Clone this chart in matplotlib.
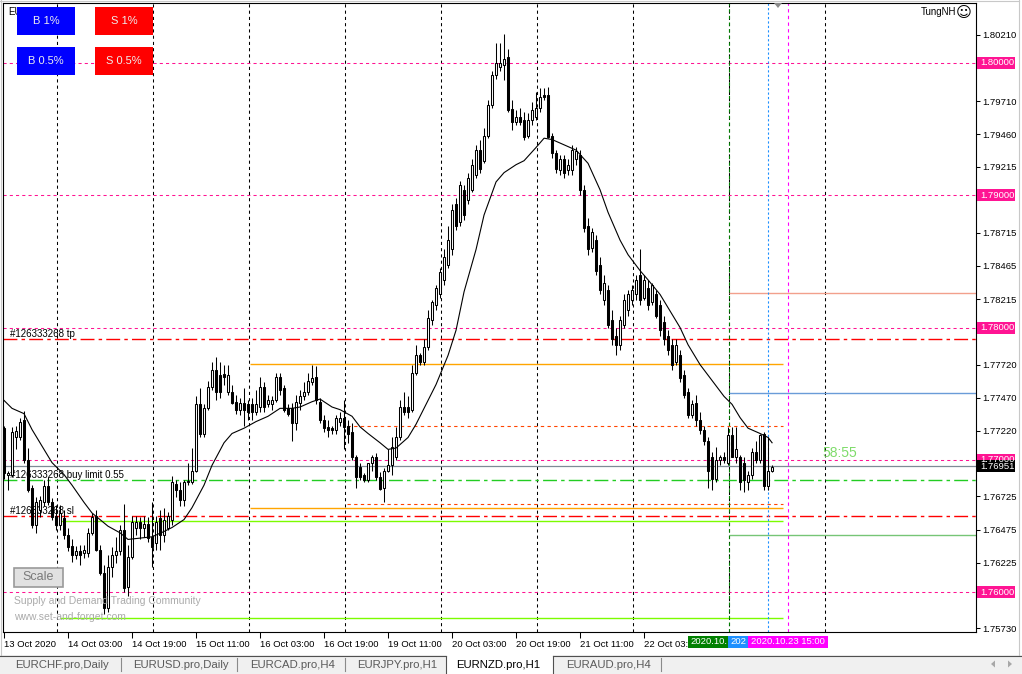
import numpy as np
import matplotlib
matplotlib.use("Agg")
import matplotlib.pyplot as plt
from matplotlib.patches import Rectangle, Polygon
from matplotlib.lines import Line2D

plt.rcParams['font.family'] = ['Liberation Sans', 'DejaVu Sans']

# ---- EURNZD H1 candles (13 Oct 11:00 -> 23 Oct 14:00) ----
opens = [1.7724, 1.7689, 1.7689, 1.7717, 1.7717, 1.7730, 1.7700, 1.7679, 1.7651, 1.7662,
         1.7668, 1.7680, 1.7668, 1.7658, 1.7651, 1.7656, 1.7643, 1.7635, 1.7628, 1.7631,
         1.7630, 1.7630, 1.7645, 1.7658, 1.7632, 1.7615, 1.7588, 1.7619, 1.7628, 1.7631,
         1.7647, 1.7604, 1.7627, 1.7649, 1.7653, 1.7649, 1.7652, 1.7642, 1.7637, 1.7656,
         1.7643, 1.7649, 1.7655, 1.7682, 1.7677, 1.7670, 1.7683, 1.7683, 1.7692, 1.7742,
         1.7720, 1.7739, 1.7755, 1.7768, 1.7764, 1.7765, 1.7751, 1.7751, 1.7744, 1.7738,
         1.7743, 1.7742, 1.7742, 1.7736, 1.7740, 1.7755, 1.7742, 1.7742, 1.7745, 1.7763,
         1.7754, 1.7739, 1.7739, 1.7728, 1.7743, 1.7748, 1.7751, 1.7759, 1.7763, 1.7744,
         1.7730, 1.7725, 1.7724, 1.7723, 1.7729, 1.7732, 1.7726, 1.7721, 1.7702, 1.7695,
         1.7689, 1.7685, 1.7698, 1.7702, 1.7687, 1.7679, 1.7692, 1.7696, 1.7702, 1.7717,
         1.7740, 1.7740, 1.7738, 1.7766, 1.7779, 1.7774, 1.7785, 1.7806, 1.7817, 1.7825,
         1.7836, 1.7847, 1.7859, 1.7893, 1.7880, 1.7904, 1.7896, 1.7904, 1.7915, 1.7934,
         1.7926, 1.7945, 1.7968, 1.7991, 1.7997, 1.7998, 1.8004, 1.7965, 1.7955, 1.7959,
         1.7957, 1.7945, 1.7957, 1.7959, 1.7966, 1.7976, 1.7976, 1.7945, 1.7932, 1.7919,
         1.7927, 1.7919, 1.7919, 1.7927, 1.7930, 1.7904, 1.7877, 1.7860, 1.7866, 1.7847,
         1.7821, 1.7828, 1.7806, 1.7794, 1.7787, 1.7802, 1.7813, 1.7821, 1.7825, 1.7840,
         1.7822, 1.7830, 1.7819, 1.7825, 1.7817, 1.7804, 1.7794, 1.7787, 1.7774, 1.7779,
         1.7764, 1.7751, 1.7734, 1.7743, 1.7730, 1.7723, 1.7714, 1.7702, 1.7686, 1.7700,
         1.7702, 1.7698, 1.7719, 1.7702, 1.7702, 1.7698, 1.7683, 1.7689, 1.7706, 1.7700,
         1.7720, 1.7680, 1.7692]
highs = [1.7726, 1.7692, 1.7725, 1.7726, 1.7732, 1.7737, 1.7709, 1.7681, 1.7672, 1.7673,
         1.7685, 1.7687, 1.7671, 1.7666, 1.7666, 1.7662, 1.7649, 1.7640, 1.7635, 1.7636,
         1.7636, 1.7649, 1.7660, 1.7662, 1.7636, 1.7621, 1.7628, 1.7634, 1.7642, 1.7651,
         1.7667, 1.7636, 1.7658, 1.7658, 1.7657, 1.7658, 1.7657, 1.7668, 1.7658, 1.7662,
         1.7664, 1.7661, 1.7688, 1.7685, 1.7683, 1.7685, 1.7698, 1.7709, 1.7748, 1.7754,
         1.7742, 1.7760, 1.7774, 1.7778, 1.7774, 1.7772, 1.7772, 1.7757, 1.7749, 1.7747,
         1.7754, 1.7745, 1.7747, 1.7753, 1.7763, 1.7759, 1.7749, 1.7748, 1.7766, 1.7766,
         1.7757, 1.7742, 1.7743, 1.7749, 1.7753, 1.7759, 1.7766, 1.7772, 1.7771, 1.7747,
         1.7734, 1.7730, 1.7726, 1.7734, 1.7736, 1.7745, 1.7730, 1.7728, 1.7704, 1.7698,
         1.7690, 1.7692, 1.7704, 1.7705, 1.7691, 1.7694, 1.7708, 1.7717, 1.7725, 1.7745,
         1.7751, 1.7748, 1.7772, 1.7787, 1.7781, 1.7791, 1.7813, 1.7821, 1.7832, 1.7845,
         1.7859, 1.7877, 1.7893, 1.7898, 1.7911, 1.7908, 1.7917, 1.7927, 1.7938, 1.7942,
         1.7951, 1.7972, 1.7994, 1.8015, 1.8015, 1.8022, 1.8010, 1.7972, 1.7964, 1.7966,
         1.7963, 1.7962, 1.7970, 1.7978, 1.7981, 1.7981, 1.7982, 1.7947, 1.7934, 1.7930,
         1.7930, 1.7927, 1.7938, 1.7936, 1.7934, 1.7908, 1.7883, 1.7875, 1.7870, 1.7853,
         1.7840, 1.7832, 1.7813, 1.7800, 1.7809, 1.7825, 1.7828, 1.7832, 1.7840, 1.7859,
         1.7840, 1.7836, 1.7834, 1.7828, 1.7821, 1.7809, 1.7798, 1.7791, 1.7791, 1.7783,
         1.7768, 1.7754, 1.7745, 1.7749, 1.7736, 1.7726, 1.7717, 1.7706, 1.7710, 1.7704,
         1.7706, 1.7725, 1.7725, 1.7725, 1.7704, 1.7702, 1.7692, 1.7709, 1.7714, 1.7720,
         1.7721, 1.7717, 1.7696]
lows = [1.7686, 1.7677, 1.7687, 1.7708, 1.7715, 1.7698, 1.7676, 1.7649, 1.7645, 1.7657,
        1.7665, 1.7666, 1.7655, 1.7647, 1.7647, 1.7640, 1.7631, 1.7623, 1.7625, 1.7621,
        1.7626, 1.7627, 1.7643, 1.7631, 1.7613, 1.7584, 1.7585, 1.7612, 1.7622, 1.7628,
        1.7600, 1.7597, 1.7625, 1.7643, 1.7640, 1.7642, 1.7638, 1.7619, 1.7632, 1.7632,
        1.7638, 1.7647, 1.7651, 1.7672, 1.7665, 1.7665, 1.7681, 1.7682, 1.7691, 1.7717,
        1.7717, 1.7738, 1.7753, 1.7745, 1.7747, 1.7757, 1.7749, 1.7742, 1.7735, 1.7734,
        1.7726, 1.7730, 1.7730, 1.7734, 1.7736, 1.7736, 1.7740, 1.7738, 1.7744, 1.7749,
        1.7736, 1.7733, 1.7714, 1.7723, 1.7738, 1.7745, 1.7749, 1.7757, 1.7742, 1.7728,
        1.7721, 1.7717, 1.7720, 1.7720, 1.7726, 1.7708, 1.7713, 1.7700, 1.7679, 1.7685,
        1.7683, 1.7683, 1.7692, 1.7685, 1.7677, 1.7668, 1.7691, 1.7689, 1.7700, 1.7715,
        1.7734, 1.7732, 1.7736, 1.7764, 1.7772, 1.7772, 1.7783, 1.7802, 1.7813, 1.7822,
        1.7832, 1.7845, 1.7855, 1.7874, 1.7877, 1.7881, 1.7893, 1.7902, 1.7913, 1.7917,
        1.7924, 1.7943, 1.7966, 1.7988, 1.7994, 1.7987, 1.7963, 1.7949, 1.7953, 1.7953,
        1.7942, 1.7943, 1.7953, 1.7957, 1.7963, 1.7972, 1.7943, 1.7928, 1.7917, 1.7915,
        1.7913, 1.7915, 1.7915, 1.7923, 1.7900, 1.7872, 1.7855, 1.7857, 1.7840, 1.7825,
        1.7817, 1.7800, 1.7787, 1.7779, 1.7783, 1.7800, 1.7809, 1.7817, 1.7821, 1.7817,
        1.7821, 1.7813, 1.7817, 1.7807, 1.7794, 1.7787, 1.7779, 1.7768, 1.7772, 1.7759,
        1.7747, 1.7732, 1.7732, 1.7726, 1.7720, 1.7711, 1.7679, 1.7677, 1.7683, 1.7696,
        1.7698, 1.7696, 1.7702, 1.7698, 1.7677, 1.7676, 1.7677, 1.7686, 1.7698, 1.7698,
        1.7677, 1.7677, 1.7691]
closes = [1.7690, 1.7690, 1.7721, 1.7722, 1.7729, 1.7700, 1.7677, 1.7651, 1.7668, 1.7670,
          1.7680, 1.7668, 1.7657, 1.7651, 1.7660, 1.7643, 1.7634, 1.7628, 1.7631, 1.7628,
          1.7632, 1.7645, 1.7657, 1.7632, 1.7615, 1.7588, 1.7619, 1.7628, 1.7631, 1.7647,
          1.7603, 1.7627, 1.7653, 1.7653, 1.7649, 1.7652, 1.7641, 1.7634, 1.7653, 1.7643,
          1.7655, 1.7658, 1.7683, 1.7677, 1.7670, 1.7683, 1.7684, 1.7692, 1.7742, 1.7720,
          1.7739, 1.7755, 1.7768, 1.7751, 1.7751, 1.7763, 1.7764, 1.7743, 1.7738, 1.7743,
          1.7738, 1.7736, 1.7736, 1.7742, 1.7755, 1.7740, 1.7745, 1.7745, 1.7763, 1.7753,
          1.7738, 1.7735, 1.7728, 1.7744, 1.7748, 1.7751, 1.7760, 1.7762, 1.7745, 1.7730,
          1.7724, 1.7723, 1.7723, 1.7732, 1.7732, 1.7725, 1.7720, 1.7702, 1.7687, 1.7687,
          1.7685, 1.7698, 1.7702, 1.7687, 1.7678, 1.7692, 1.7696, 1.7710, 1.7717, 1.7740,
          1.7736, 1.7736, 1.7766, 1.7779, 1.7774, 1.7785, 1.7807, 1.7819, 1.7830, 1.7842,
          1.7853, 1.7866, 1.7889, 1.7877, 1.7908, 1.7885, 1.7913, 1.7923, 1.7934, 1.7920,
          1.7945, 1.7968, 1.7991, 1.8000, 1.8000, 1.8003, 1.7964, 1.7955, 1.7959, 1.7955,
          1.7944, 1.7957, 1.7964, 1.7966, 1.7974, 1.7974, 1.7944, 1.7932, 1.7920, 1.7927,
          1.7917, 1.7923, 1.7934, 1.7933, 1.7904, 1.7875, 1.7859, 1.7872, 1.7843, 1.7828,
          1.7834, 1.7802, 1.7791, 1.7787, 1.7806, 1.7821, 1.7825, 1.7828, 1.7836, 1.7821,
          1.7836, 1.7817, 1.7832, 1.7809, 1.7798, 1.7791, 1.7783, 1.7772, 1.7787, 1.7762,
          1.7749, 1.7734, 1.7742, 1.7730, 1.7723, 1.7714, 1.7692, 1.7686, 1.7700, 1.7702,
          1.7700, 1.7719, 1.7702, 1.7708, 1.7683, 1.7685, 1.7689, 1.7706, 1.7700, 1.7719,
          1.7680, 1.7692, 1.7695]

# moving average (bar index, value)
ma_idx = [0, 2, 5, 7, 10, 12, 15, 17, 20, 22, 24, 26, 29, 31, 34, 37, 40, 42, 45, 47,
          50, 52, 55, 57, 60, 63, 66, 69, 72, 74, 77, 79, 82, 84, 87, 89, 91, 94, 96, 98,
          101, 103, 106, 108, 111, 113, 115, 118, 120, 123, 125, 128, 130, 133, 135, 137,
          140, 143, 146, 149, 151, 154, 156, 159, 161, 164, 166, 169, 171, 174, 177, 180,
          182, 184, 186, 189, 191, 192]
ma_val = [1.7745, 1.7739, 1.7735, 1.7723, 1.7708, 1.7698, 1.7689, 1.7681, 1.7668, 1.7660,
          1.7655, 1.7650, 1.7645, 1.7640, 1.7641, 1.7642, 1.7646, 1.7649, 1.7655, 1.7664,
          1.7681, 1.7696, 1.7713, 1.7720, 1.7724, 1.7729, 1.7733, 1.7739, 1.7739, 1.7740,
          1.7744, 1.7746, 1.7740, 1.7738, 1.7733, 1.7725, 1.7720, 1.7713, 1.7708, 1.7709,
          1.7717, 1.7727, 1.7745, 1.7757, 1.7779, 1.7798, 1.7827, 1.7859, 1.7885, 1.7910,
          1.7917, 1.7923, 1.7926, 1.7936, 1.7943, 1.7942, 1.7938, 1.7934, 1.7924, 1.7904,
          1.7887, 1.7866, 1.7855, 1.7843, 1.7836, 1.7825, 1.7815, 1.7800, 1.7787, 1.7772,
          1.7760, 1.7748, 1.7742, 1.7732, 1.7724, 1.7720, 1.7717, 1.7713]

time_labels = ["13 Oct 2020", "14 Oct 03:00", "14 Oct 19:00", "15 Oct 11:00",
               "16 Oct 03:00", "16 Oct 19:00", "19 Oct 11:00", "20 Oct 03:00",
               "20 Oct 19:00", "21 Oct 11:00", "22 Oct 03:00"]
price_ticks = [1.80210, 1.79960, 1.79710, 1.79460, 1.79215, 1.78965, 1.78715, 1.78465,
               1.78215, 1.77970, 1.77720, 1.77470, 1.77220, 1.76970, 1.76725, 1.76475,
               1.76225, 1.75975, 1.75730]
# tick labels hidden behind the price tags on the reference
hidden_ticks = [1.79960, 1.78965, 1.77970, 1.76970, 1.75975]
round_levels = [1.80, 1.79, 1.78, 1.77, 1.76]
bid = 1.76951
tp_price = 1.77912
buy_limit = 1.76847
sl_price = 1.76575
timer = "58:55"

W, H = 1022, 674
fig = plt.figure(figsize=(W / 100, H / 100), dpi=100, facecolor='white')
ax = fig.add_axes([3 / W, 1 - 632 / H, 972.7 / W, 629 / H])

def fx(x):
    return x / W

def fy(y):
    return 1 - y / H

o, h, l, c = map(np.array, (opens, highs, lows, closes))
idx = np.arange(len(c))
up = c >= o

ax.set_xlim(-0.25, 242.9)
ax.set_ylim(1.75701, 1.80451)

# vertical grid
for gx in np.arange(13.25, 206, 24):
    ax.axvline(gx, color='black', lw=0.75, ls=(0, (3, 3)), zorder=1)

# levels
for lv in round_levels:
    ax.axhline(lv, color='#FF1493', lw=0.75, ls=(0, (3, 3)), zorder=2)
ax.axhline(tp_price, color='#FF0000', lw=1.0, ls=(0, (10, 3, 2.5, 3)), zorder=2)
ax.axhline(sl_price, color='#FF0000', lw=1.0, ls=(0, (10, 3, 2.5, 3)), zorder=2)
ax.axhline(buy_limit, color='#22CC22', lw=1.0, ls=(0, (10, 3, 2.5, 3)), zorder=2)
ax.axhline(bid, color='#7f8a96', lw=0.9, zorder=2)

ax.hlines(1.77725, 61.5, 194.75, color='#FFA500', lw=1.0, zorder=2)
ax.hlines(1.76638, 61.5, 194.75, color='#FFA500', lw=1.0, zorder=2)
ax.hlines([1.77257, 1.76668], 85.75, 194.75, color='#FF4500', lw=0.8, ls=(0, (3, 3)), zorder=2)
ax.hlines([1.76539, 1.75807], 14, 194.75, color='#7CFC00', lw=1.0, zorder=2)
ax.hlines(1.78259, 181.25, 243, color='#F2A08C', lw=1.0, zorder=2)
ax.hlines(1.77504, 181.25, 243, color='#6A9CD8', lw=1.0, zorder=2)
ax.hlines(1.76432, 181.25, 243, color='#76C576', lw=1.0, zorder=2)

ax.axvline(181.25, color='#008000', lw=0.8, ls=(0, (3, 3)), zorder=2)
ax.axvline(191, color='#1E90FF', lw=0.8, ls=(0, (2, 2)), zorder=2)
ax.axvline(196, color='#FF00FF', lw=0.8, ls=(0, (3, 3)), zorder=2)

# candles
ax.vlines(idx, l, h, color='black', lw=0.75, zorder=3)
ax.bar(idx[up], (c - o)[up], bottom=o[up], width=0.5, color='white',
       edgecolor='black', lw=0.75, zorder=4)
ax.bar(idx[~up], (o - c)[~up], bottom=c[~up], width=0.5, color='black',
       edgecolor='black', lw=0.75, zorder=4)
ax.plot(ma_idx, ma_val, color='black', lw=0.8, zorder=5)

# order labels
ax.text(1.5, tp_price, "#126333268 tp", fontsize=7, va='bottom', zorder=2.6)
ax.text(1.5, buy_limit, "#126333268 buy limit 0.55", fontsize=7, va='bottom', zorder=2.6)
ax.text(1.5, sl_price, "#126333268 sl", fontsize=7, va='bottom', zorder=2.6)
ax.text(204.5, 1.77049, timer, fontsize=10, color='#7EDC6A', va='center', zorder=6)

# axes styling
for s in ax.spines.values():
    s.set_color('black')
    s.set_linewidth(0.8)
ax.yaxis.tick_right()
ax.set_yticks(price_ticks, ["" if p in hidden_ticks else f"{p:.5f}" for p in price_ticks])
ax.tick_params(axis='y', direction='out', length=3, width=0.75, pad=2, labelsize=6.8)
ax.set_xticks(np.arange(len(time_labels)) * 16, time_labels)
for t in ax.get_xticklabels():
    t.set_ha('left')
ax.tick_params(axis='x', direction='out', length=4, width=0.75, pad=1.5, labelsize=6.8)

# ---- figure level decorations (pixel positions) ----
def box(x0, y0, x1, y1, fc, ec='none', lw=0, z=6):
    fig.add_artist(Rectangle((fx(x0), fy(y1)), (x1 - x0) / W, (y1 - y0) / H, fc=fc, ec=ec,
                             lw=lw, transform=fig.transFigure, zorder=z))

def hline_px(x0, x1, y, color, lw=0.8, z=6):
    fig.add_artist(Line2D([fx(x0), fx(x1)], [fy(y), fy(y)], color=color, lw=lw,
                          transform=fig.transFigure, zorder=z))

def vline_px(x, y0, y1, color, lw=0.8, z=6):
    fig.add_artist(Line2D([fx(x), fx(x)], [fy(y0), fy(y1)], color=color, lw=lw,
                          transform=fig.transFigure, zorder=z))

def price_tag(price, fc):
    ypx = H - ax.transData.transform((0, price))[1]
    box(977, ypx - 6, 1015, ypx + 6, fc, z=8)
    fig.text(fx(980.5), fy(ypx), f"{price:.5f}", fontsize=6.8, color='white',
             va='center', zorder=9)

for lv in round_levels:
    price_tag(lv, '#FF1493')
price_tag(bid, 'black')

# window border
hline_px(0, 1019, 0.5, '#C8C8C8', z=2)
vline_px(0.5, 0, 655, '#C8C8C8', z=2)
vline_px(1018.5, 0, 655, '#C8C8C8', z=2)

# time stamps of vertical lines on the time axis
box(688, 635.5, 728, 647.5, '#008000')
box(728, 635.5, 748, 647.5, '#1E90FF')
box(748, 635.5, 828, 647.5, '#FF00FF')
fig.text(fx(690), fy(641.5), "2020.10.", fontsize=6.8, color='white', va='center', zorder=7)
fig.text(fx(730), fy(641.5), "202", fontsize=6.8, color='white', va='center', zorder=7)
fig.text(fx(751), fy(641.5), "2020.10.23 15:00", fontsize=6.8, color='white', va='center', zorder=7)

# title + buttons
fig.text(fx(8), fy(12), "EURNZD", fontsize=7, va='center', zorder=5)
for (x0, y0, lab, col) in [(17, 7, "B 1%", '#0000FF'), (95, 7, "S 1%", '#FF0000'),
                           (17, 47, "B 0.5%", '#0000FF'), (95, 47, "S 0.5%", '#FF0000')]:
    box(x0, y0, x0 + 58, y0 + 28, col, z=6)
    fig.text(fx(x0 + 29), fy(y0 + 14), lab, fontsize=8, color='#EEEEEE',
             ha='center', va='center', zorder=7)

fig.text(fx(956), fy(12), "TungNH", fontsize=7, ha='right', va='center', zorder=7)
fig.text(fx(963.5), fy(12.5), "\u263A", fontsize=11, ha='center', va='center',
         family='DejaVu Sans', zorder=7)
fig.add_artist(Polygon([[fx(774), fy(3)], [fx(782), fy(3)], [fx(778), fy(8)]],
                       closed=True, fc='#8a8a8a', ec='none', transform=fig.transFigure, zorder=7))

# Scale button and watermark
box(14, 568, 63, 587, '#E1E1E1', ec='#9A9A9A', lw=1.2, z=7)
fig.text(fx(38.5), fy(577.5), "Scale", fontsize=9, color='#7A7A7A', ha='center', va='center', zorder=8)
fig.text(fx(14), fy(601), "Supply and Demand Trading Community", fontsize=7.5,
         color='#ABABAB', va='center', zorder=7)
fig.text(fx(14), fy(616.5), "www.set-and-forget.com", fontsize=7.5,
         color='#ABABAB', va='center', zorder=7)

# tab bar
box(0, 655, 1022, 674, '#F0F0F0', z=1)
box(446, 655, 553, 674, 'white', z=2)
hline_px(0, 446, 655.5, '#505050', z=3)
hline_px(553, 1022, 655.5, '#505050', z=3)
vline_px(446, 655.5, 674, '#505050', z=3)
vline_px(553, 655.5, 674, '#505050', z=3)
tabs = ["EURCHF.pro,Daily", "EURUSD.pro,Daily", "EURCAD.pro,H4", "EURJPY.pro,H1",
        "EURNZD.pro,H1", "EURAUD.pro,H4"]
tab_x = [15, 133, 250, 357, 456, 566]
for tx, tl in zip(tab_x, tabs):
    fig.text(fx(tx), fy(664.5), tl, fontsize=8.2, va='center',
             color='black' if tl == "EURNZD.pro,H1" else '#5A5A5A', zorder=4)
for sx in [121, 237, 345, 661]:
    vline_px(sx, 658, 671, '#8A8A8A', z=3)
fig.add_artist(Polygon([[fx(995), fy(660.5)], [fx(995), fy(667.5)], [fx(991), fy(664)]],
                       closed=True, fc='#A8A8A8', ec='none', transform=fig.transFigure, zorder=4))
fig.add_artist(Polygon([[fx(1008), fy(660.5)], [fx(1008), fy(667.5)], [fx(1012), fy(664)]],
                       closed=True, fc='#A8A8A8', ec='none', transform=fig.transFigure, zorder=4))

fig.savefig("out.png", dpi=100, facecolor='white')
